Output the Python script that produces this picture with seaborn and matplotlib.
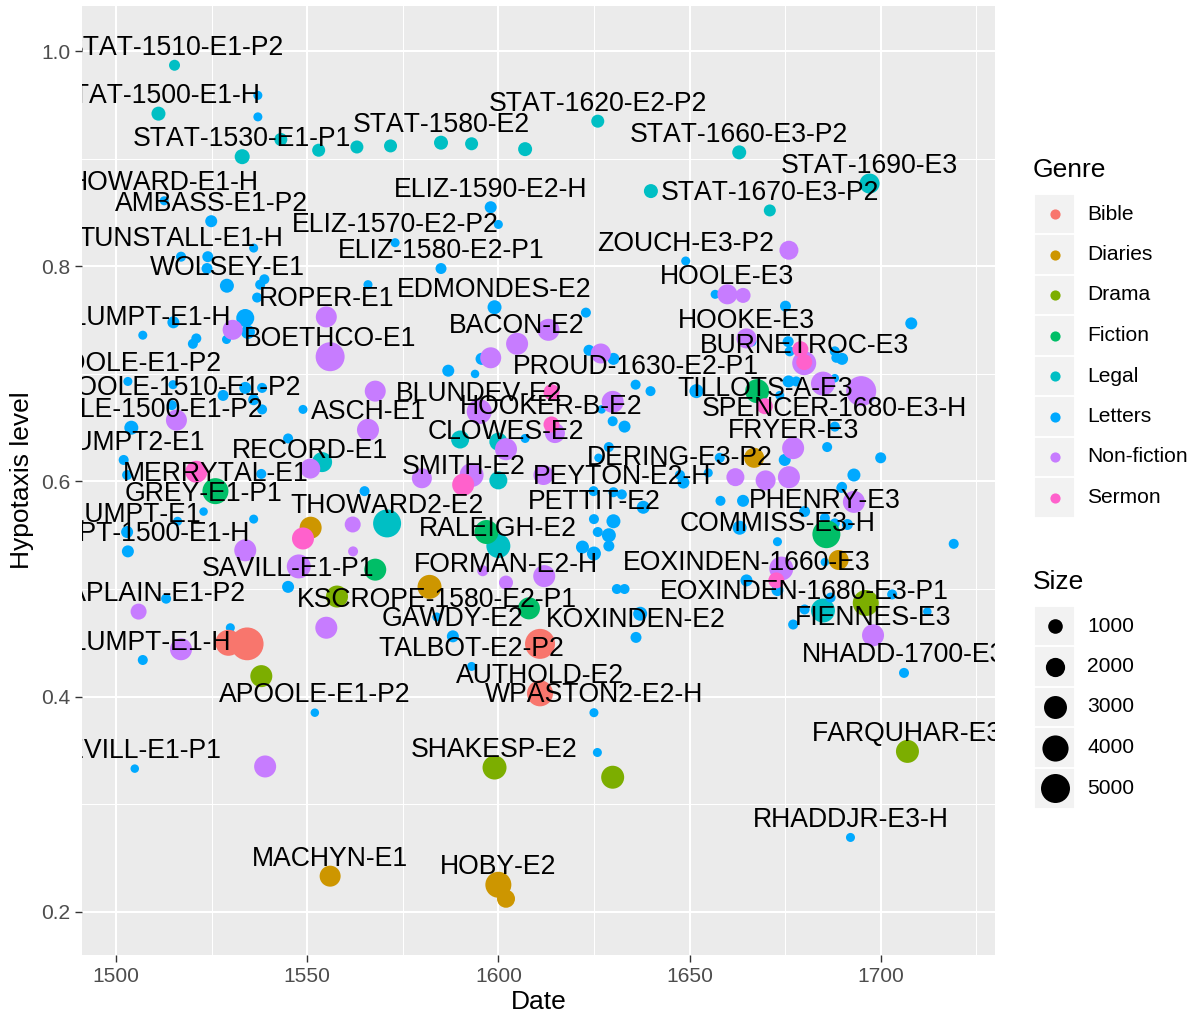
import numpy as np
import pandas as pd
import matplotlib
matplotlib.use("Agg")
import matplotlib.pyplot as plt
from matplotlib.patches import Rectangle
import seaborn as sns

# ---------------- data: one block per genre ----------------
genres = ["Bible", "Diaries", "Drama", "Fiction", "Legal", "Letters", "Non-fiction", "Sermon"]
palette = {"Bible": "#F8766D", "Diaries": "#CD9600", "Drama": "#7CAE00", "Fiction": "#00BE67",
           "Legal": "#00BFC4", "Letters": "#00A9FF", "Non-fiction": "#C77CFF", "Sermon": "#FF61CC"}

legal_year = [1515.3, 1511.1, 1543.1, 1533.0, 1553.0, 1563.0, 1571.8, 1585.0, 1593.0, 1607.0, 1626.0,
              1639.9, 1663.0, 1671.0, 1697.1, 1553.9, 1570.9, 1590.0, 1600.0, 1600.0, 1600.0, 1684.9]
legal_hyp = [0.987, 0.942, 0.918, 0.902, 0.908, 0.911, 0.912, 0.915, 0.914, 0.909, 0.935,
             0.870, 0.906, 0.852, 0.877, 0.618, 0.561, 0.639, 0.637, 0.601, 0.540, 0.480]
legal_words = [410, 890, 720, 1080, 720, 720, 720, 890, 720, 890, 720,
               890, 890, 560, 2190, 2190, 4640, 1710, 1710, 1710, 3310, 3310]
legal_name = ["STAT-1510-E1-P2", "STAT-1500-E1-H", "", "STAT-1530-E1-P1", "", "", "", "STAT-1580-E2", "", "",
              "STAT-1620-E2-P2", "", "STAT-1660-E3-P2", "STAT-1670-E3-P2", "STAT-1690-E3", "", "THOWARD2-E2",
              "", "", "", "RALEIGH-E2", ""]

letters_year = [1537.1, 1537.1, 1512.6, 1524.9, 1536.0, 1517.0, 1524.0, 1523.8, 1529.0, 1538.8,
                1537.7, 1536.9, 1565.9, 1573.0, 1598.0, 1600.0, 1585.0, 1649.0, 1599.0, 1622.9,
                1515.0, 1533.8, 1534.5, 1528.9, 1521.0, 1520.1, 1507.0, 1503.1, 1514.6, 1514.9,
                1528.0, 1533.8, 1538.2, 1536.0, 1538.2, 1548.9, 1504.0, 1502.0, 1502.9, 1545.0,
                1538.0, 1595.6, 1586.9, 1593.9, 1623.7, 1630.1, 1635.9, 1639.8, 1629.9, 1633.0,
                1627.0, 1607.0, 1628.9, 1626.2, 1647.5, 1648.4, 1624.9, 1630.1, 1632.3, 1637.9,
                1625.0, 1630.1, 1626.0, 1628.9, 1628.9, 1622.0, 1625.0, 1631.0, 1633.0, 1637.1,
                1636.0, 1583.9, 1588.1, 1593.0, 1625.0, 1625.9, 1692.1, 1504.9, 1552.0, 1507.0,
                1529.9, 1513.1, 1545.0, 1536.0, 1522.9, 1516.1, 1502.9, 1503.1, 1565.0, 1656.7,
                1675.1, 1708.0, 1666.2, 1675.8, 1676.2, 1688.0, 1689.9, 1688.4, 1697.1, 1688.0,
                1675.9, 1677.9, 1651.8, 1673.6, 1688.0, 1686.0, 1700.0, 1674.9, 1657.9, 1654.9,
                1693.0, 1689.9, 1658.1, 1664.0, 1680.1, 1688.0, 1691.3, 1663.1, 1673.0, 1719.1,
                1664.9, 1673.0, 1685.4, 1680.1, 1686.9, 1703.0, 1677.1, 1712.2, 1706.1, 1689.7,
                1685.4]
letters_hyp = [0.959, 0.939, 0.861, 0.842, 0.817, 0.809, 0.809, 0.798, 0.782, 0.788,
               0.783, 0.771, 0.783, 0.822, 0.855, 0.839, 0.798, 0.805, 0.762, 0.757,
               0.748, 0.752, 0.739, 0.732, 0.733, 0.728, 0.736, 0.693, 0.671, 0.690,
               0.680, 0.687, 0.687, 0.676, 0.667, 0.667, 0.650, 0.620, 0.606, 0.640,
               0.607, 0.714, 0.703, 0.700, 0.722, 0.714, 0.690, 0.684, 0.656, 0.651,
               0.667, 0.640, 0.632, 0.622, 0.606, 0.599, 0.591, 0.590, 0.588, 0.576,
               0.565, 0.563, 0.553, 0.550, 0.540, 0.539, 0.533, 0.500, 0.500, 0.477,
               0.455, 0.474, 0.456, 0.428, 0.385, 0.348, 0.269, 0.333, 0.385, 0.434,
               0.464, 0.491, 0.502, 0.565, 0.572, 0.563, 0.553, 0.535, 0.591, 0.774,
               0.763, 0.747, 0.730, 0.730, 0.721, 0.721, 0.714, 0.715, 0.679, 0.696,
               0.693, 0.693, 0.684, 0.680, 0.651, 0.632, 0.622, 0.620, 0.622, 0.608,
               0.606, 0.595, 0.582, 0.582, 0.572, 0.561, 0.560, 0.557, 0.544, 0.542,
               0.508, 0.499, 0.525, 0.481, 0.492, 0.495, 0.467, 0.479, 0.422, 0.594,
               0.566]
letters_words = [160, 160, 160, 560, 160, 280, 410, 410, 890, 280,
                 280, 280, 160, 160, 560, 160, 410, 160, 890, 280,
                 560, 1710, 890, 160, 280, 280, 160, 160, 280, 160,
                 410, 560, 280, 410, 280, 160, 890, 280, 280, 280,
                 280, 560, 560, 60, 410, 560, 280, 280, 280, 560,
                 60, 160, 280, 60, 280, 560, 280, 280, 280, 720,
                 280, 890, 280, 890, 410, 720, 890, 280, 280, 890,
                 410, 160, 560, 160, 160, 160, 160, 60, 60, 280,
                 160, 280, 560, 160, 60, 160, 560, 560, 280, 160,
                 410, 560, 280, 410, 280, 280, 560, 280, 410, 60,
                 560, 280, 890, 160, 280, 280, 410, 560, 280, 160,
                 720, 280, 280, 560, 410, 280, 410, 890, 160, 280,
                 560, 560, 60, 280, 280, 280, 280, 60, 280, 280,
                 280]
letters_name = ["", "", "HOWARD-E1-H", "AMBASS-E1-P2", "", "TUNSTALL-E1-H", "", "", "WOLSEY-E1", "",
                "", "", "", "ELIZ-1570-E2-P2", "ELIZ-1590-E2-H", "", "ELIZ-1580-E2-P1", "ZOUCH-E3-P2",
                "EDMONDES-E2", "",
                "", "", "", "", "", "", "PLUMPT-E1-H", "JPOOLE-E1-P2", "EPOOLE-1510-E1-P2", "",
                "", "", "", "", "", "", "MPOOLE-1500-E1-P2", "PLUMPT2-E1", "", "",
                "", "", "", "", "", "", "PROUD-1630-E2-P1", "", "", "",
                "", "", "", "", "DERING-E3-P2", "", "", "", "PEYTON-E2-H", "",
                "PETTIT-E2", "", "", "", "", "", "", "", "", "",
                "KOXINDEN-E2", "KSCROPE-1580-E2-P1", "GAWDY-E2", "TALBOT-E2-P2", "WPASTON2-E2-H", "",
                "RHADDJR-E3-H", "NEVILL-E1-P1", "APOOLE-E1-P2", "PLUMPT-E1-H",
                "", "", "SAVILL-E1-P1", "", "GREY-E1-P1", "", "PLUMPT-E1", "PLUMPT-1500-E1-H", "", "",
                "", "", "", "", "", "", "", "", "", "",
                "", "", "", "", "SPENCER-1680-E3-H", "", "", "", "", "",
                "", "", "", "", "", "", "", "", "COMMISS-E3-H", "",
                "EOXINDEN-1660-E3", "", "", "EOXINDEN-1680-E3-P1", "", "", "", "", "NHADD-1700-E3", "",
                "PHENRY-E3"]

nonfic_year = [1676.0, 1659.9, 1664.0, 1664.9, 1680.0, 1684.9, 1694.9, 1677.1, 1662.0, 1669.9,
               1676.0, 1693.0, 1674.0, 1698.0, 1555.0, 1556.0, 1530.5, 1567.8, 1515.8, 1565.9,
               1550.8, 1604.9, 1613.1, 1598.0, 1626.8, 1629.9, 1595.0, 1614.8, 1602.0, 1593.0,
               1580.0, 1611.8, 1561.9, 1562.0, 1533.8, 1547.8, 1505.9, 1555.0, 1517.0, 1539.0,
               1602.0, 1595.9, 1612.0]
nonfic_hyp = [0.815, 0.774, 0.773, 0.733, 0.710, 0.691, 0.684, 0.631, 0.604, 0.601,
              0.604, 0.581, 0.519, 0.457, 0.753, 0.716, 0.741, 0.684, 0.657, 0.648,
              0.612, 0.728, 0.741, 0.715, 0.719, 0.674, 0.665, 0.645, 0.630, 0.606,
              0.603, 0.606, 0.560, 0.535, 0.536, 0.521, 0.479, 0.464, 0.444, 0.335,
              0.506, 0.517, 0.512]
nonfic_words = [1940, 2190, 1080, 2190, 3310, 3310, 5380, 2730, 1710, 2190,
                2730, 2730, 3310, 2730, 2450, 5000, 2190, 2450, 2450, 2730,
                2190, 2730, 2730, 2450, 2190, 2730, 3620, 2190, 2730, 3310,
                2190, 2190, 1270, 280, 2730, 3310, 1270, 2730, 2730, 2730,
                890, 410, 2730]
nonfic_name = ["", "HOOLE-E3", "", "HOOKE-E3", "BURNETROC-E3", "", "", "FRYER-E3", "", "",
               "", "", "", "FIENNES-E3", "ROPER-E1", "BOETHCO-E1", "", "", "", "ASCH-E1",
               "RECORD-E1", "BACON-E2", "", "", "", "", "BLUNDEV-E2", "", "CLOWES-E2", "",
               "", "", "", "", "", "", "CHAPLAIN-E1-P2", "", "", "",
               "FORMAN-E2-H", "", ""]

sermon_year = [1521.0, 1548.9, 1590.8, 1613.9, 1613.9, 1679.0, 1680.0, 1669.7, 1672.7]
sermon_hyp = [0.609, 0.547, 0.597, 0.683, 0.653, 0.723, 0.711, 0.670, 0.508]
sermon_words = [2730, 2730, 2730, 1270, 1270, 1270, 1270, 1270, 1270]
sermon_name = ["", "", "SMITH-E2", "", "HOOKER-B-E2", "", "", "TILLOTS-A-E3", ""]

fiction_year = [1526.0, 1567.8, 1596.9, 1608.0, 1667.7, 1685.8]
fiction_hyp = [0.591, 0.518, 0.553, 0.482, 0.684, 0.551]
fiction_words = [3950, 2730, 3310, 2730, 3310, 4640]
fiction_name = ["MERRYTAL-E1", "", "", "", "", ""]

drama_year = [1557.8, 1538.0, 1599.0, 1629.9, 1696.1, 1707.0]
drama_hyp = [0.493, 0.419, 0.334, 0.325, 0.487, 0.349]
drama_words = [2730, 2730, 3310, 3010, 3950, 3010]
drama_name = ["", "", "SHAKESP-E2", "", "", "FARQUHAR-E3"]

diaries_year = [1550.9, 1582.0, 1666.9, 1689.0, 1556.0, 1600.0, 1602.0]
diaries_hyp = [0.557, 0.502, 0.622, 0.527, 0.233, 0.225, 0.212]
diaries_words = [2730, 3310, 2190, 2190, 2450, 3950, 1710]
diaries_name = ["", "", "", "", "MACHYN-E1", "HOBY-E2", ""]

bible_year = [1529.4, 1534.3, 1610.9, 1610.9]
bible_hyp = [0.450, 0.449, 0.449, 0.403]
bible_words = [3950, 7010, 5380, 3950]
bible_name = ["", "", "", "AUTHOLD-E2"]

blocks = [
    ("Legal", legal_year, legal_hyp, legal_words, legal_name),
    ("Letters", letters_year, letters_hyp, letters_words, letters_name),
    ("Non-fiction", nonfic_year, nonfic_hyp, nonfic_words, nonfic_name),
    ("Fiction", fiction_year, fiction_hyp, fiction_words, fiction_name),
    ("Drama", drama_year, drama_hyp, drama_words, drama_name),
    ("Diaries", diaries_year, diaries_hyp, diaries_words, diaries_name),
    ("Bible", bible_year, bible_hyp, bible_words, bible_name),
    ("Sermon", sermon_year, sermon_hyp, sermon_words, sermon_name),
]
df = pd.concat([pd.DataFrame({"Date": y, "hyp": h, "Size": w, "text": n, "Genre": g})
                for g, y, h, w, n in blocks], ignore_index=True)

size_breaks = [1000, 2000, 3000, 4000, 5000]
SIZE_NORM = (100, 6500)
SIZE_RANGE = (37.4, 557.7)   # marker area in pt^2


def marker_area(v):
    lo, hi = SIZE_RANGE
    return lo + (v - SIZE_NORM[0]) / (SIZE_NORM[1] - SIZE_NORM[0]) * (hi - lo)


FONT = "Liberation Sans"
plt.rcParams["font.family"] = [FONT, "DejaVu Sans"]
plt.rcParams["text.kerning_factor"] = 6   # near-unkerned glyph runs

W, H = 1192, 1014
fig = plt.figure(figsize=(W / 100, H / 100), dpi=100)
ax = fig.add_axes([82 / W, 1 - 955 / H, 913 / W, 949 / H])
ax.set_facecolor("#EBEBEB")

sns.scatterplot(data=df, x="Date", y="hyp", hue="Genre", hue_order=genres, palette=palette,
                size="Size", sizes=SIZE_RANGE, size_norm=SIZE_NORM, linewidth=0,
                edgecolor="none", legend=False, ax=ax, zorder=3)

# sample names above their points
for _, r in df[df["text"] != ""].iterrows():
    ax.text(r["Date"], r["hyp"] + 0.0097, r["text"], ha="center", va="baseline",
            fontsize=19.2, color="black", family=FONT, clip_on=True, zorder=4)

ax.set_xlim(1491.1, 1729.9)
ax.set_ylim(0.1597, 1.0421)
ax.set_xticks([1500, 1550, 1600, 1650, 1700])
ax.set_xticks([1525, 1575, 1625, 1675, 1725], minor=True)
ax.set_yticks([0.2, 0.4, 0.6, 0.8, 1.0])
ax.set_yticks([0.3, 0.5, 0.7, 0.9], minor=True)
ax.set_yticklabels(["0.2", "0.4", "0.6", "0.8", "1.0"])
ax.grid(which="major", color="white", linewidth=1.45)
ax.grid(which="minor", color="white", linewidth=0.72)
ax.set_axisbelow(True)
for s in ax.spines.values():
    s.set_visible(False)
ax.tick_params(which="major", length=4.75, width=1.0, color="#333333", labelsize=15.1,
               labelcolor="#4D4D4D", pad=3.8)
ax.tick_params(which="minor", length=0)
ax.set_xlabel("")
ax.set_ylabel("")
fig.text(538.5 / W, 1 - 1002 / H, "Date", ha="center", va="center", fontsize=19, family=FONT)
fig.text(22 / W, 1 - 480.5 / H, "Hypotaxis level", ha="center", va="center", rotation=90,
         fontsize=19, family=FONT)

# ---------------- legends ----------------
lg = fig.add_axes([0, 0, 1, 1], zorder=5)
lg.set_xlim(0, W)
lg.set_ylim(H, 0)
lg.axis("off")
lg.patch.set_alpha(0)

key_x, key_w = 1034, 41
text_x = 1087
lg.text(1033, 170, "Genre", fontsize=19, va="center", ha="left", family=FONT)
genre_y = [214 + 40.5 * i for i in range(len(genres))]
for g, yy in zip(genres, genre_y):
    lg.add_patch(Rectangle((key_x, yy - key_w / 2), key_w, key_w, facecolor="#F2F2F2",
                           edgecolor="white", linewidth=1.4))
    lg.scatter([key_x + key_w / 2], [yy], s=marker_area(300), color=palette[g], linewidths=0)
    lg.text(text_x, yy, g, fontsize=15.1, va="center", ha="left", family=FONT)

lg.text(1033, 582, "Size", fontsize=19, va="center", ha="left", family=FONT)
size_y = [626 + 40.5 * i for i in range(len(size_breaks))]
for v, yy in zip(size_breaks, size_y):
    lg.add_patch(Rectangle((key_x, yy - key_w / 2), key_w, key_w, facecolor="#F2F2F2",
                           edgecolor="white", linewidth=1.4))
    lg.scatter([key_x + key_w / 2], [yy], s=marker_area(v), color="black", linewidths=0)
    lg.text(text_x, yy, str(v), fontsize=15.1, va="center", ha="left", family=FONT)

fig.savefig("out.png", dpi=100, facecolor="white")
